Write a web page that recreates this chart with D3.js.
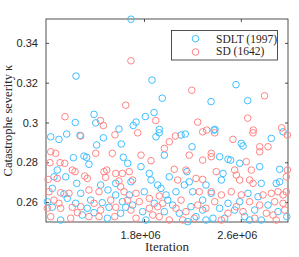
<!DOCTYPE html>
<html>
<head>
<meta charset="utf-8">
<script src="https://cdn.jsdelivr.net/npm/d3@7.9.0/dist/d3.min.js"></script>
<style>
  body { margin: 0; background: #fff; }
  svg { display: block; }
  .tick-label { font-family: "Liberation Sans", Arial, sans-serif; font-size: 11px; fill: #262626; }
  .serif { font-family: "Liberation Serif", "Times New Roman", serif; fill: #262626; }
</style>
</head>
<body>
<svg id="chart" width="299" height="257"></svg>
<script>
// iterations in millions, catastrophe severity kappa
const seriesNames = ["SDLT (1997)", "SD (1642)"];
const seriesColors = ["#40bfff", "#ff8585"];

const sdltX = [1.692, 1.238, 1.866, 1.951, 2.354, 2.560, 2.657, 1.387, 1.883, 1.811, 1.232, 1.401, 1.593, 1.711, 1.734, 1.926, 2.387,
  1.029, 1.097, 1.161, 1.271, 1.464, 1.409, 1.612, 1.216, 1.304, 1.326, 1.345, 1.629, 1.083, 1.153, 1.056, 1.244, 1.442, 1.566,
  1.042, 1.139, 1.277, 1.502, 1.566, 1.001, 1.166, 1.359, 1.235, 1.455, 1.621, 1.042, 1.331, 1.511, 1.649, 1.111, 1.290, 1.387,
  1.497, 1.607, 1.926, 1.899, 2.106, 2.141, 2.197, 1.968, 1.775, 1.665, 1.692, 1.844, 1.858, 1.913, 1.940, 2.009, 2.155, 2.174,
  2.133, 2.312, 1.678, 1.802, 1.982, 1.996, 2.064, 2.202, 2.285, 1.706, 1.885, 2.037, 2.188, 2.285, 1.789, 1.968, 2.092, 2.230,
  1.816, 2.161, 2.312, 2.378, 2.604, 2.618, 2.852, 2.949, 2.425, 2.494, 2.516, 2.591, 2.756, 2.921, 2.453, 2.439, 2.769, 2.893,
  2.921, 2.659, 2.742, 2.494, 2.591, 2.825, 2.356, 2.425, 2.549, 2.715, 2.907, 2.370, 2.632, 2.769, 2.980, 2.467, 2.673];
const sdltY = [0.3519, 0.3233, 0.3213, 0.3122, 0.3105, 0.3190, 0.3110, 0.3041, 0.3050, 0.3030, 0.3000, 0.2998, 0.2967, 0.2985, 0.3002, 0.2965, 0.2965,
  0.2928, 0.2915, 0.2942, 0.2935, 0.2923, 0.2887, 0.2892, 0.2823, 0.2831, 0.2825, 0.2790, 0.2825, 0.2761, 0.2727, 0.2727, 0.2694, 0.2686, 0.2694,
  0.2669, 0.2641, 0.2644, 0.2661, 0.2636, 0.2602, 0.2619, 0.2610, 0.2594, 0.2597, 0.2602, 0.2574, 0.2569, 0.2574, 0.2574, 0.2510, 0.2535, 0.2547,
  0.2519, 0.2544, 0.2948, 0.2928, 0.2937, 0.2942, 0.2878, 0.2836, 0.2778, 0.2795, 0.2702, 0.2744, 0.2711, 0.2686, 0.2669, 0.2727, 0.2753, 0.2702,
  0.2686, 0.2686, 0.2636, 0.2652, 0.2636, 0.2610, 0.2652, 0.2652, 0.2610, 0.2585, 0.2594, 0.2585, 0.2577, 0.2560, 0.2552, 0.2552, 0.2544, 0.2527,
  0.2510, 0.2502, 0.2510, 0.2962, 0.2895, 0.2882, 0.2920, 0.2953, 0.2828, 0.2815, 0.2811, 0.2795, 0.2778, 0.2765, 0.2744, 0.2711, 0.2694, 0.2694,
  0.2702, 0.2644, 0.2627, 0.2594, 0.2602, 0.2585, 0.2644, 0.2569, 0.2560, 0.2560, 0.2552, 0.2519, 0.2527, 0.2510, 0.2527, 0.2519, 0.2510];

const sdX = [1.692, 1.147, 1.440, 1.464, 1.649, 2.195, 2.796, 2.657, 1.897, 2.244, 2.318, 2.703, 2.938,
  1.277, 1.560, 1.029, 1.070, 1.401, 1.538, 1.023, 1.106, 1.145, 1.207, 1.230, 1.469, 1.492, 1.566, 1.621, 1.083, 1.007, 1.310,
  1.331, 1.483, 1.593, 1.015, 1.111, 1.180, 1.345, 1.428, 1.607, 1.635, 1.056, 1.097, 1.277, 1.387, 1.525, 1.001, 1.111, 1.207,
  1.442, 1.566, 1.029, 1.194, 1.345, 1.428, 1.558, 1.249, 1.748, 2.285, 2.059, 2.009, 1.968, 1.775, 1.858, 2.174, 2.050, 2.147,
  2.285, 1.678, 1.706, 2.078, 2.230, 2.285, 1.734, 1.844, 1.926, 2.257, 1.665, 1.761, 1.954, 2.106, 2.244, 1.692, 1.844, 1.913,
  2.064, 2.147, 2.312, 1.734, 1.926, 2.009, 2.120, 2.216, 1.872, 2.384, 2.701, 2.535, 2.756, 2.756, 2.825, 2.985, 2.356, 2.356,
  2.645, 2.397, 2.549, 2.563, 2.591, 2.687, 2.673, 2.701, 2.976, 2.985, 2.356, 2.439, 2.521, 2.604, 2.852, 2.907, 2.949, 2.976,
  2.783, 2.384, 2.563, 2.673, 2.756, 2.880, 2.949, 2.494, 2.618, 2.811, 2.866, 2.963, 2.439, 2.715, 2.893];
const sdY = [0.3310, 0.3029, 0.3010, 0.2985, 0.3087, 0.3162, 0.3134, 0.3022, 0.3010, 0.3002, 0.2962, 0.2962, 0.2973,
  0.2932, 0.2938, 0.2853, 0.2845, 0.2845, 0.2845, 0.2798, 0.2798, 0.2795, 0.2761, 0.2753, 0.2753, 0.2761, 0.2744, 0.2744, 0.2719, 0.2714, 0.2731,
  0.2719, 0.2724, 0.2706, 0.2652, 0.2647, 0.2644, 0.2661, 0.2652, 0.2677, 0.2652, 0.2610, 0.2594, 0.2577, 0.2594, 0.2610, 0.2569, 0.2569, 0.2574,
  0.2560, 0.2574, 0.2527, 0.2519, 0.2527, 0.2527, 0.2527, 0.2547, 0.2948, 0.2953, 0.2932, 0.2903, 0.2870, 0.2836, 0.2808, 0.2836, 0.2765, 0.2761,
  0.2811, 0.2753, 0.2711, 0.2711, 0.2719, 0.2714, 0.2644, 0.2619, 0.2631, 0.2652, 0.2610, 0.2602, 0.2594, 0.2610, 0.2585, 0.2560, 0.2569, 0.2577,
  0.2569, 0.2552, 0.2569, 0.2519, 0.2527, 0.2510, 0.2510, 0.2519, 0.2535, 0.2948, 0.2948, 0.2915, 0.2878, 0.2853, 0.2878, 0.2937, 0.2845, 0.2828,
  0.2803, 0.2753, 0.2761, 0.2736, 0.2711, 0.2761, 0.2711, 0.2694, 0.2727, 0.2761, 0.2652, 0.2636, 0.2652, 0.2636, 0.2644, 0.2652, 0.2636, 0.2652,
  0.2636, 0.2602, 0.2577, 0.2602, 0.2585, 0.2602, 0.2594, 0.2544, 0.2552, 0.2544, 0.2535, 0.2560, 0.2510, 0.2519, 0.2510];

const xTicks = [1.8, 2.6];
const yTicks = [0.26, 0.28, 0.30, 0.32, 0.34];

const svg = d3.select("#chart");
const plotLeft = 46, plotRight = 288, plotTop = 19, plotBottom = 222;
const axisColor = "#262626";

const x = d3.scaleLinear().domain([0.99, 2.99]).range([plotLeft, plotRight]);
const y = d3.scaleLinear().domain([0.25, 0.352]).range([plotBottom, plotTop]);

const fmtX = (d) => (d * 1e6).toExponential(1).replace(/e\+(\d)$/, "e+0$1");
const fmtY = (d) => String(+d.toFixed(2));

// axes: ticks point inward, labels only on left and bottom
const gBottom = svg.append("g").attr("transform", `translate(0,${plotBottom})`)
  .call(d3.axisBottom(x).tickValues(xTicks).tickSize(-3).tickPadding(9).tickFormat(fmtX));
const gTop = svg.append("g").attr("transform", `translate(0,${plotTop})`)
  .call(d3.axisTop(x).tickValues(xTicks).tickSize(-3).tickFormat(""));
const gLeft = svg.append("g").attr("transform", `translate(${plotLeft},0)`)
  .call(d3.axisLeft(y).tickValues(yTicks).tickSize(-3).tickPadding(8).tickFormat(fmtY));
const gRight = svg.append("g").attr("transform", `translate(${plotRight},0)`)
  .call(d3.axisRight(y).tickValues(yTicks).tickSize(-3).tickFormat(""));

[gBottom, gTop, gLeft, gRight].forEach((g) => {
  g.attr("font-size", null).attr("font-family", null);
  g.select(".domain").remove();
  g.selectAll(".tick line").attr("stroke", axisColor).attr("stroke-width", 0.8);
  g.selectAll(".tick text").attr("class", "tick-label");
});
gBottom.selectAll(".tick text").attr("dx", -4);

svg.append("rect")
  .attr("x", plotLeft).attr("y", plotTop)
  .attr("width", plotRight - plotLeft).attr("height", plotBottom - plotTop)
  .attr("fill", "none").attr("stroke", axisColor).attr("stroke-width", 0.8);

// scatter points
const series = [
  { xs: sdltX, ys: sdltY, color: seriesColors[0] },
  { xs: sdX, ys: sdY, color: seriesColors[1] }
];
series.forEach((s) => {
  svg.append("g").selectAll("circle")
    .data(s.xs.map((v, i) => [v, s.ys[i]]))
    .join("circle")
    .attr("cx", (d) => x(d[0]))
    .attr("cy", (d) => y(d[1]))
    .attr("r", 3.3)
    .attr("fill", "none")
    .attr("stroke", s.color)
    .attr("stroke-width", 1);
});

// legend
const legend = svg.append("g").attr("transform", "translate(171.5,30.5)");
legend.append("rect")
  .attr("width", 106).attr("height", 29.5)
  .attr("fill", "#fff").attr("stroke", axisColor).attr("stroke-width", 0.8);
seriesNames.forEach((name, i) => {
  legend.append("circle")
    .attr("cx", 24).attr("cy", 8.2 + i * 13.3).attr("r", 3.3)
    .attr("fill", "none").attr("stroke", seriesColors[i]).attr("stroke-width", 1);
  legend.append("text")
    .attr("class", "serif")
    .attr("x", 44.5).attr("y", 12 + i * 12.6)
    .attr("font-size", 11.5)
    .text(name);
});

// axis labels
svg.append("text")
  .attr("class", "serif")
  .attr("x", (plotLeft + plotRight) / 2).attr("y", 251)
  .attr("text-anchor", "middle").attr("font-size", 13)
  .text("Iteration");

svg.append("text")
  .attr("class", "serif")
  .attr("transform", `translate(12,${(plotTop + plotBottom) / 2}) rotate(-90)`)
  .attr("text-anchor", "middle").attr("font-size", 12.5)
  .text("Catastrophe severity κ");
</script>
</body>
</html>
